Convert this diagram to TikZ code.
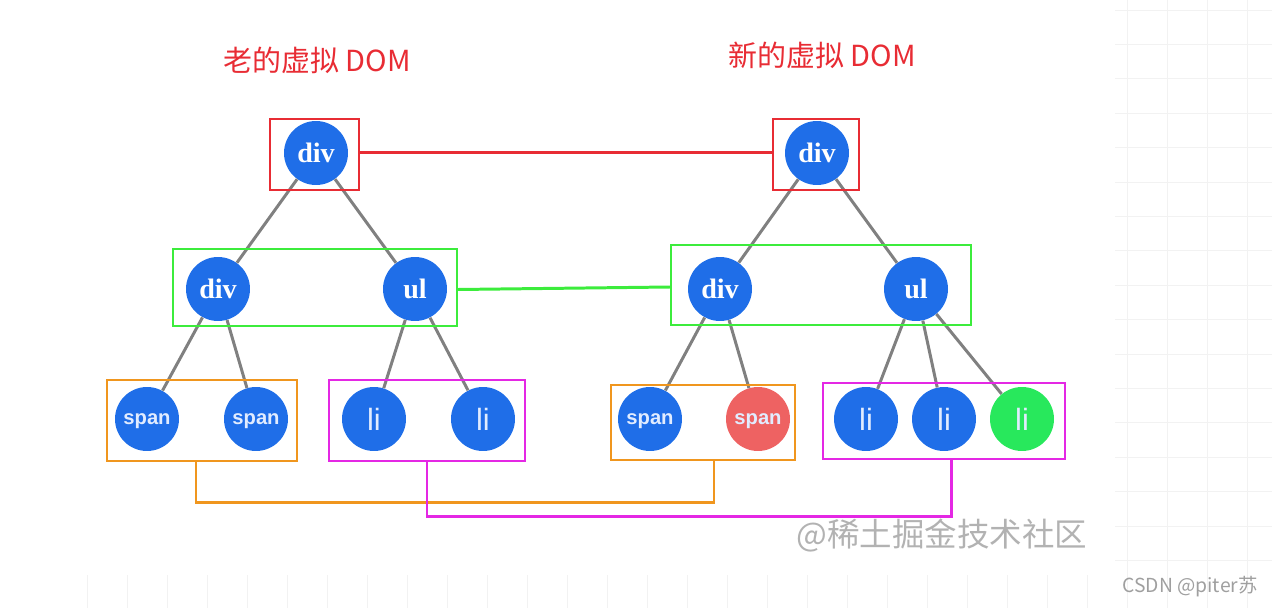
\documentclass[tikz,border=0pt]{standalone}
\usepackage{fontspec}
\setmainfont{Liberation Serif}
\setsansfont{Liberation Sans}
\newfontfamily\cjk{Noto Sans CJK SC}
\usetikzlibrary{calc}

\definecolor{nodeblue}{RGB}{31,110,232}
\definecolor{nodered}{RGB}{238,98,98}
\definecolor{nodegreen}{RGB}{40,232,92}
\definecolor{nodetext}{RGB}{225,236,255}
\definecolor{edgegray}{RGB}{128,128,128}
\definecolor{boxred}{RGB}{232,44,52}
\definecolor{boxgreen}{RGB}{60,236,60}
\definecolor{boxorange}{RGB}{240,150,30}
\definecolor{boxmagenta}{RGB}{228,40,228}

\begin{document}
\begin{tikzpicture}[x=0.02cm, y=-0.02cm]
    \tikzstyle{vnode} = [circle, fill=nodeblue, minimum size=1.28cm, inner sep=0pt,
        text=white]
    \tikzstyle{tag} = [vnode, font=\bfseries\fontsize{16}{16}\selectfont]
    \tikzstyle{spantag} = [vnode, text=nodetext, text depth=0pt,
        font=\sffamily\bfseries\fontsize{11.5}{11.5}\selectfont]
    \tikzstyle{litag} = [vnode, text=nodetext, text depth=0pt,
        font=\sffamily\fontsize{17.5}{17.5}\selectfont]
    \tikzstyle{edge} = [draw=edgegray, line width=1.7pt]
    \tikzstyle{box} = [rectangle, draw, line width=1.1pt, inner sep=0pt]
    \tikzstyle{title} = [text=boxred, font=\cjk\fontsize{16.5}{16.5}\selectfont]

    \useasboundingbox (0,0) rectangle (1272,608);

    % background grid
    \foreach \x in {1127,1167,1207,1247}
        \draw[gray!10, line width=.4pt] (\x,0) -- (\x,608);
    \foreach \k in {0,...,16}
        \draw[gray!10, line width=.4pt] (1115,10+34.4*\k) -- (1272,10+34.4*\k);
    \foreach \k in {0,...,25}
        \draw[gray!10, line width=.4pt] (87+40*\k,575) -- (87+40*\k,608);

    % Old tree ------------------------------------------
    \node (OT) at (317,60) [title] {老的虚拟 DOM};
    \node (OD) at (316,153) [tag] {div};
    \node (OD1) at ($(OD) + (-98, 136)$) [tag] {div};
    \node (OU) at ($(OD) + (99, 136)$) [tag] {ul};
    \node (OS1) at ($(OD1) + (-71, 130)$) [spantag] {span};
    \node (OS2) at ($(OD1) + (38, 130)$) [spantag] {span};
    \node (OL1) at ($(OU) + (-41, 130)$) [litag] {li};
    \node (OL2) at ($(OU) + (68, 130)$) [litag] {li};

    \draw[edge] (OD) -- (OD1);
    \draw[edge] (OD) -- (OU);
    \draw[edge] (OD1) -- (OS1);
    \draw[edge] (OD1) -- (OS2);
    \draw[edge] (OU) -- (OL1);
    \draw[edge] (OU) -- (OL2);
    % ---------------------------------------------------

    % New tree ------------------------------------------
    \node (NT) at (822,55) [title] {新的虚拟 DOM};
    \node (ND) at (817,153) [tag] {div};
    \node (ND1) at ($(ND) + (-97, 136)$) [tag] {div};
    \node (NU) at ($(ND) + (99, 136)$) [tag] {ul};
    \node (NS1) at ($(ND1) + (-70, 130)$) [spantag] {span};
    \node (NS2) at ($(ND1) + (38, 130)$) [spantag, fill=nodered] {span};
    \node (NL1) at ($(NU) + (-50, 130)$) [litag] {li};
    \node (NL2) at ($(NU) + (28, 130)$) [litag] {li};
    \node (NL3) at ($(NU) + (106, 130)$) [litag, fill=nodegreen] {li};

    \draw[edge] (ND) -- (ND1);
    \draw[edge] (ND) -- (NU);
    \draw[edge] (ND1) -- (NS1);
    \draw[edge] (ND1) -- (NS2);
    \draw[edge] (NU) -- (NL1);
    \draw[edge] (NU) -- (NL2);
    \draw[edge] (NU) -- (NL3);
    % ---------------------------------------------------

    % Levels compared -----------------------------------
    \node (ORbox) at (314.5,154.5) [box, draw=boxred, minimum width=1.78cm, minimum height=1.42cm] {};
    \node (NRbox) at (816,154.5) [box, draw=boxred, minimum width=1.72cm, minimum height=1.42cm] {};
    \node (OGbox) at (315,287.5) [box, draw=boxgreen, minimum width=5.68cm, minimum height=1.54cm] {};
    \node (NGbox) at (821,285) [box, draw=boxgreen, minimum width=6cm, minimum height=1.6cm] {};
    \node (OObox) at (202,420.5) [box, draw=boxorange, minimum width=3.8cm, minimum height=1.62cm] {};
    \node (OMbox) at (427,420.5) [box, draw=boxmagenta, minimum width=3.92cm, minimum height=1.62cm] {};
    \node (NObox) at (703,422.5) [box, draw=boxorange, minimum width=3.68cm, minimum height=1.5cm] {};
    \node (NMbox) at (944,421) [box, draw=boxmagenta, minimum width=4.84cm, minimum height=1.52cm] {};

    \draw[boxred, line width=1.7pt] ($(ORbox.east) + (0, -2)$) -- ($(NRbox.west) + (0, -2)$);
    \draw[boxgreen, line width=1.7pt] ($(OGbox.east) + (0, 2)$) -- ($(NGbox.west) + (0, 2)$);
    \draw[boxorange, line width=1.7pt] ($(OObox.south) + (-6, 0)$) -- ++(0,41) -| ($(NObox.south) + (11, 0)$);
    \draw[boxmagenta, line width=1.7pt] (OMbox.south) -- ++(0,55) -| ($(NMbox.south) + (7, 0)$);

    % watermarks
    \node (wm) at (942,536) [text=gray!60, font=\cjk\fontsize{18.5}{18.5}\selectfont] {@稀土掘金技术社区};
    \node (csdn) at (1190,587) [text=gray!75, font=\cjk\fontsize{11}{11}\selectfont] {CSDN @piter苏};
\end{tikzpicture}
\end{document}
